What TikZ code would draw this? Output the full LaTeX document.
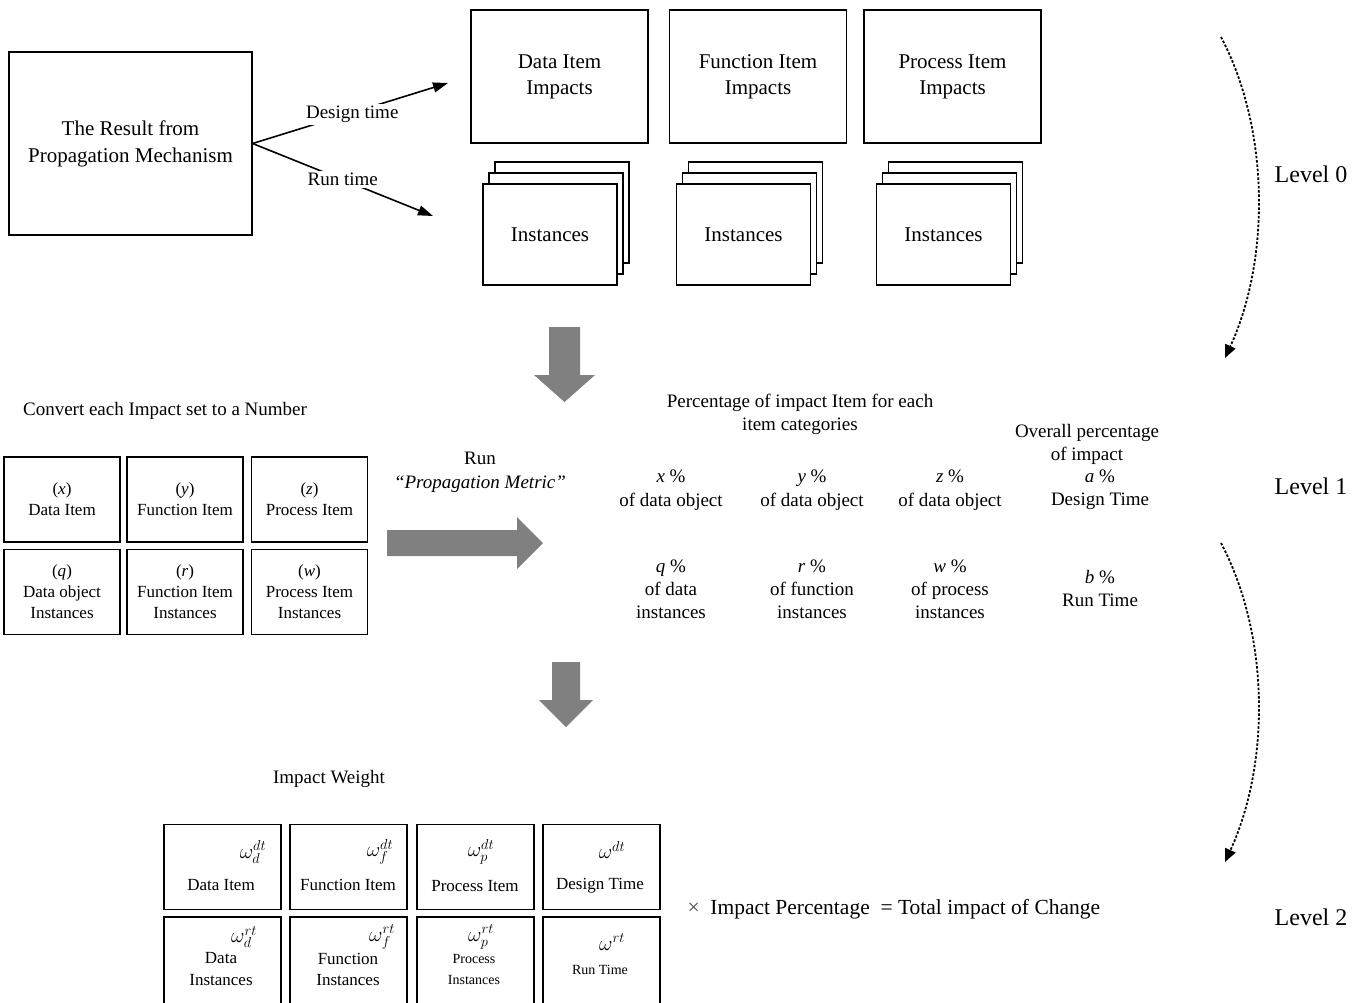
\documentclass[tikz,border=0pt]{standalone}
\usepackage{fontspec}
\setmainfont{Liberation Serif}
\usetikzlibrary{arrows.meta}

\begin{document}
\begin{tikzpicture}[x=1pt,y=1pt,yscale=-1,
    bigtxt/.style={font=\fontsize{21}{26}\selectfont, align=center},
    midtxt/.style={font=\fontsize{19}{23}\selectfont, align=center},
    smalltxt/.style={font=\fontsize{17}{21}\selectfont, align=center},
    tinytxt/.style={font=\fontsize{14}{21}\selectfont, align=center},
    symtxt/.style={font=\fontsize{21}{21}\selectfont},
    lvltxt/.style={font=\fontsize{24}{28}\selectfont},
    itembox/.style={draw, line width=1.2pt, minimum width=177pt, minimum height=133pt, bigtxt},
    instbox/.style={draw, line width=1.2pt, fill=white, minimum width=134pt, minimum height=101pt, bigtxt},
    cell/.style={draw, line width=1.2pt, minimum width=116pt, minimum height=85pt, smalltxt},
    wcell/.style={draw, line width=1.2pt, minimum width=117pt, minimum height=85pt},
    blockarr/.style={fill=black!50, draw=none},
    tip/.style={line width=1.6pt, -{Triangle[length=15pt,width=10pt]}},
    lvlarr/.style={line width=1.8pt, dash pattern=on 2.5pt off 1.8pt, -{Triangle[length=13pt,width=11pt]}}]
    \useasboundingbox (0,0) rectangle (1367,1002);

    % level 0
    \node [itembox, minimum width=243pt, minimum height=183pt, font=\fontsize{21}{27}\selectfont] (res) at (130.5,143.5) {The Result from\\Propagation Mechanism};
    \coordinate (dtEnd) at (448,83);
    \coordinate (rtEnd) at (433,216);
    \draw [tip] (res.east) -- (dtEnd) node [pos=0.51, fill=white, inner sep=2pt, midtxt, yshift=-2pt] (dtlab) {Design time};
    \draw [tip] (res.east) -- (rtEnd) node [pos=0.5, fill=white, inner sep=2pt, midtxt] (rtlab) {Run time};

    \node [itembox] (dimp) at (559.5,76.5) {Data Item\\Impacts};
    \node [itembox] (fimp) at (758,76.5) {Function Item\\Impacts};
    \node [itembox] (pimp) at (952.5,76.5) {Process Item\\Impacts};

    \node [instbox] (dinst3) at (562,212.5) {};
    \node [instbox] (dinst2) at (556,223.5) {};
    \node [instbox] (dinst) at (550,234.5) {Instances};
    \node [instbox] (finst3) at (755.5,212.5) {};
    \node [instbox] (finst2) at (749.5,223.5) {};
    \node [instbox] (finst) at (743.5,234.5) {Instances};
    \node [instbox] (pinst3) at (955.5,212.5) {};
    \node [instbox] (pinst2) at (949.5,223.5) {};
    \node [instbox] (pinst) at (943.5,234.5) {Instances};

    \fill [blockarr] (549,327) -- (580,327) -- (580,375) -- (595,375) -- (564.5,402) -- (534,375) -- (549,375) -- cycle;

    % level 1
    \node [midtxt] (convlab) at (165,411) {Convert each Impact set to a Number};
    \node [cell] (cx) at (62,499.5) {(\textit{x})\\Data Item};
    \node [cell] (cy) at (185,499.5) {(\textit{y})\\Function Item};
    \node [cell] (cz) at (309.5,499.5) {(\textit{z})\\Process Item};
    \node [cell] (cq) at (62,592) {(\textit{q})\\Data object\\Instances};
    \node [cell] (cr) at (185,592) {(\textit{r})\\Function Item\\Instances};
    \node [cell] (cw) at (309.5,592) {(\textit{w})\\Process Item\\Instances};

    \node [midtxt, font=\fontsize{19}{24}\selectfont] (runlab) at (480,472) {Run\\\textit{“Propagation Metric”}};
    \fill [blockarr] (387,530) -- (517,530) -- (517,517) -- (543,543) -- (517,569) -- (517,556) -- (387,556) -- cycle;

    \node [midtxt] (pctlab) at (800,414.5) {Percentage of impact Item for each\\item categories};
    \node [midtxt] (ovrlab) at (1087,444) {Overall percentage\\of impact};
    \node [midtxt, font=\fontsize{19}{24}\selectfont] (px) at (671,490) {\textit{x} \%\\of data object};
    \node [midtxt, font=\fontsize{19}{24}\selectfont] (py) at (812,490) {\textit{y} \%\\of data object};
    \node [midtxt, font=\fontsize{19}{24}\selectfont] (pz) at (950,490) {\textit{z} \%\\of data object};
    \node [midtxt] (pa) at (1100,489.5) {\textit{a} \%\\Design Time};
    \node [midtxt] (pq) at (671,589) {\textit{q} \%\\of data\\instances};
    \node [midtxt] (pr) at (812,589) {\textit{r} \%\\of function\\instances};
    \node [midtxt] (pw) at (950,589) {\textit{w} \%\\of process\\instances};
    \node [midtxt] (pb) at (1100,588.5) {\textit{b} \%\\Run Time};

    \fill [blockarr] (552,662) -- (580,662) -- (580,700) -- (593,700) -- (566,727) -- (539,700) -- (552,700) -- cycle;

    % level 2
    \node [midtxt] (wlab) at (329,779) {Impact Weight};
    \node [wcell] (wd) at (222.5,867) {};
    \node [wcell] (wf) at (348.5,867) {};
    \node [wcell] (wp) at (475.5,867) {};
    \node [wcell] (wdt) at (601.5,867) {};
    \node [wcell, minimum height=90pt] (wdr) at (222.5,962) {};
    \node [wcell, minimum height=90pt] (wfr) at (348.5,962) {};
    \node [wcell, minimum height=90pt] (wpr) at (475.5,962) {};
    \node [wcell, minimum height=90pt] (wrt) at (601.5,962) {};

    \node [symtxt] (wdsym) at (253,852) {$\omega_d^{dt}$};
    \node [smalltxt] (wdtxt) at (221,885) {Data Item};
    \node [symtxt] (wfsym) at (380,852) {$\omega_f^{dt}$};
    \node [smalltxt] (wftxt) at (348,885) {Function Item};
    \node [symtxt] (wpsym) at (481,852) {$\omega_p^{dt}$};
    \node [smalltxt] (wptxt) at (475,886) {Process Item};
    \node [symtxt] (wdtsym) at (612,850) {$\omega^{dt}$};
    \node [smalltxt] (wdttxt) at (600,886) {Design Time};
    \node [symtxt] (wdrsym) at (244,937) {$\omega_d^{rt}$};
    \node [smalltxt] (wdrtxt) at (221,969) {Data\\Instances};
    \node [symtxt] (wfrsym) at (382,937) {$\omega_f^{rt}$};
    \node [smalltxt] (wfrtxt) at (348,969) {Function\\Instances};
    \node [symtxt] (wprsym) at (481,937) {$\omega_p^{rt}$};
    \node [tinytxt] (wprtxt) at (474,969) {Process\\Instances};
    \node [symtxt] (wrtsym) at (612,942) {$\omega^{rt}$};
    \node [tinytxt] (wrttxt) at (600,970) {Run Time};

    \node [anchor=west, font=\fontsize{21.5}{24}\selectfont] (total) at (684,909) {{\color{black!70}×}\ \ Impact Percentage \ = Total impact of Change};

    % levels
    \node [lvltxt] (lvl0) at (1311,174) {Level 0};
    \node [lvltxt] (lvl1) at (1311,486) {Level 1};
    \node [lvltxt] (lvl2) at (1311,917) {Level 2};
    \coordinate (a0) at (1221,37);
    \coordinate (b0) at (1225,358);
    \coordinate (a1) at (1221,543);
    \coordinate (b1) at (1225,862);
    \draw [lvlarr] (a0) .. controls (1270,130) and (1270,260) .. (b0);
    \draw [lvlarr] (a1) .. controls (1270,636) and (1270,764) .. (b1);
\end{tikzpicture}
\end{document}
